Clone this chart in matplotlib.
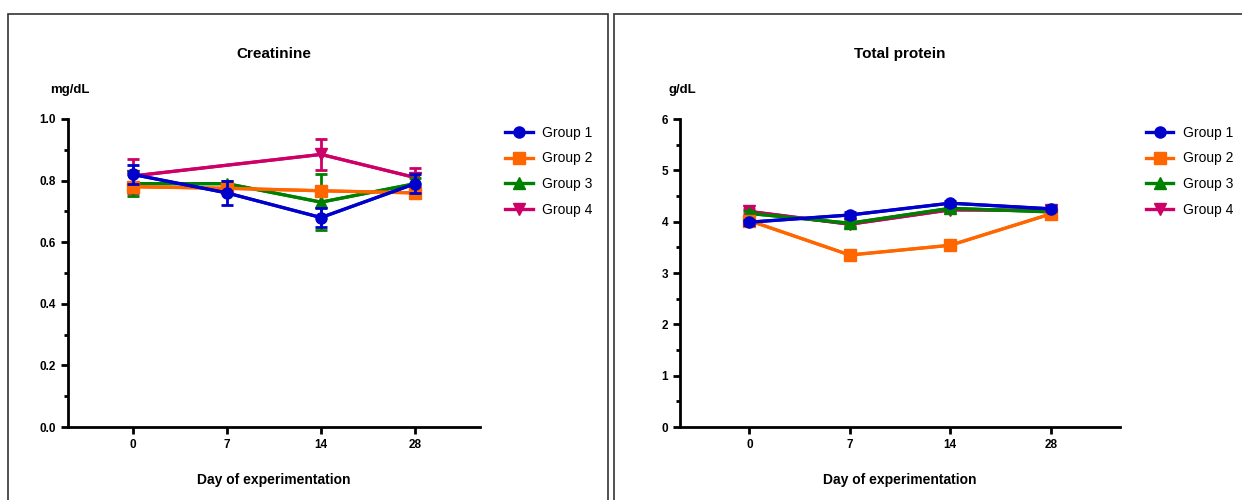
import numpy as np
import matplotlib
matplotlib.use("Agg")
import matplotlib.pyplot as plt
from matplotlib.patches import Rectangle
from matplotlib.ticker import MultipleLocator, FormatStrFormatter

plt.rcParams['font.family'] = ['Liberation Sans', 'DejaVu Sans']

# data
days = ['0', '7', '14', '28']
groups = ['Group 1', 'Group 2', 'Group 3', 'Group 4']

# creatinine (mg/dL), group 4 has no value on day 7
crea_g1 = [0.82, 0.76, 0.68, 0.79]
crea_g2 = [0.78, 0.775, 0.767, 0.76]
crea_g3 = [0.79, 0.79, 0.73, 0.79]
crea_g4 = [0.815, np.nan, 0.885, 0.81]
crea_e1 = [0.03, 0.04, 0.03, 0.03]
crea_e2 = [0.01, 0.01, 0.01, 0.01]
crea_e3 = [0.04, 0.01, 0.09, 0.02]
crea_e4 = [0.055, np.nan, 0.05, 0.03]

# total protein (g/dL)
prot_g1 = [3.99, 4.13, 4.36, 4.25]
prot_g2 = [4.02, 3.35, 3.54, 4.15]
prot_g3 = [4.16, 3.97, 4.26, 4.19]
prot_g4 = [4.2, 3.95, 4.23, 4.22]
prot_e1 = [0.05, 0.05, 0.05, 0.05]
prot_e2 = [0.05, 0.05, 0.05, 0.05]
prot_e3 = [0.05, 0.05, 0.05, 0.05]
prot_e4 = [0.05, 0.05, 0.05, 0.05]

colors = ['#0000CC', '#FF6600', '#008000', '#CC0066']
markers = ['o', 's', '^', 'v']

fig = plt.figure(figsize=(12.42, 5.0), dpi=100)

# panel frames
fig.patches.append(Rectangle((8 / 1242, -0.01), 600 / 1242, 1 - 14 / 500 + 0.01,
                             transform=fig.transFigure, fill=False, ec='#333333', lw=1.2))
fig.patches.append(Rectangle((614 / 1242, -0.01), 640 / 1242, 1 - 14 / 500 + 0.01,
                             transform=fig.transFigure, fill=False, ec='#333333', lw=1.2))


def panel(rect, title, unit, series, errs, ymax, major, minor, fmt):
    ax = fig.add_axes(rect)
    x = np.arange(len(days))
    handles = []
    for i in [3, 2, 1, 0]:
        y = np.array(series[i], dtype=float)
        e = np.array(errs[i], dtype=float)
        ok = ~np.isnan(y)
        ax.errorbar(x[ok], y[ok], yerr=e[ok], color=colors[i], lw=2.2, capsize=4.5,
                    capthick=2, elinewidth=2, zorder=2 + (3 - i))
        h, = ax.plot(x[ok], y[ok], color=colors[i], lw=2.4, marker=markers[i],
                     markersize=8, zorder=3 + (3 - i), label=groups[i])
        handles.append(h)
    handles = handles[::-1]
    ax.set_xlim(-0.69, 3.69)
    ax.set_ylim(0, ymax)
    ax.set_xticks(x)
    ax.set_xticklabels(days)
    ax.yaxis.set_major_locator(MultipleLocator(major))
    ax.yaxis.set_minor_locator(MultipleLocator(minor))
    ax.yaxis.set_major_formatter(FormatStrFormatter(fmt))
    for s in ['top', 'right']:
        ax.spines[s].set_visible(False)
    for s in ['left', 'bottom']:
        ax.spines[s].set_linewidth(2)
    ax.tick_params(axis='both', which='major', width=2, length=5, labelsize=8.5)
    ax.tick_params(axis='y', which='minor', width=2, length=3)
    for lab in ax.get_xticklabels() + ax.get_yticklabels():
        lab.set_fontweight('bold')
    ax.set_title(title, fontsize=11, fontweight='bold', pad=44)
    ax.set_xlabel('Day of experimentation', fontsize=10, fontweight='bold', labelpad=16)
    ax.text(0.005, 1.094, unit, transform=ax.transAxes, ha='center', va='center',
            fontsize=9.5, fontweight='bold')
    ax.legend(handles=handles, loc='upper left', bbox_to_anchor=(1.03, 1.019), frameon=False,
              fontsize=10, handlelength=2.0, handletextpad=0.7, labelspacing=0.85)
    return ax


ax1 = panel([68 / 1242, 73 / 500, 412 / 1242, 308 / 500], 'Creatinine', 'mg/dL',
            [crea_g1, crea_g2, crea_g3, crea_g4], [crea_e1, crea_e2, crea_e3, crea_e4],
            1.0, 0.2, 0.1, '%.1f')

ax2 = panel([680 / 1242, 73 / 500, 440 / 1242, 308 / 500], 'Total protein', 'g/dL',
            [prot_g1, prot_g2, prot_g3, prot_g4], [prot_e1, prot_e2, prot_e3, prot_e4],
            6, 1, 0.5, '%d')

fig.savefig('out.png', dpi=100)
